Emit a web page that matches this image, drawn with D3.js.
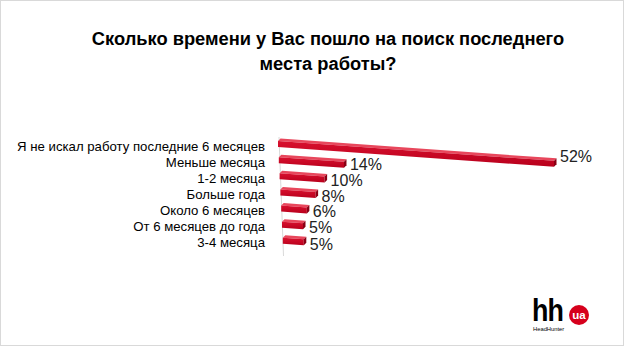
<!DOCTYPE html>
<html>
<head>
<meta charset="utf-8">
<script src="https://cdn.jsdelivr.net/npm/d3@7"></script>
<style>
  html, body { margin: 0; padding: 0; background: #fff; }
  svg { display: block; }
</style>
</head>
<body>
<svg id="chart" width="624" height="346"></svg>
<script>
// Survey answers and shares (%)
const categories = [
  "Я не искал работу последние 6 месяцев",
  "Меньше месяца",
  "1-2 месяца",
  "Больше года",
  "Около 6 месяцев",
  "От 6 месяцев до года",
  "3-4 месяца"
];
const values = [52, 14, 10, 8, 6, 5, 5];
const valueLabels = ["52%", "14%", "10%", "8%", "6%", "5%", "5%"];
const titleLines = ["Сколько времени у Вас пошло на поиск последнего", "места работы?"];

const W = 624, H = 346;
const svg = d3.select("#chart");

// Frame
svg.append("rect")
  .attr("x", 0.5).attr("y", 0.5)
  .attr("width", W - 1).attr("height", H - 1)
  .attr("fill", "#fff").attr("stroke", "#d9d9d9");

// Title
svg.append("text")
  .attr("x", 328).attr("y", 45)
  .attr("text-anchor", "middle")
  .attr("font-family", "Liberation Sans, Arial, sans-serif")
  .attr("font-weight", "bold")
  .attr("font-size", 18.3)
  .attr("fill", "#000")
  .selectAll("tspan").data(titleLines).join("tspan")
  .attr("x", 328)
  .attr("dy", (d, i) => i === 0 ? 0 : 25)
  .text(d => d);

// Scales: rows top to bottom, and a mildly foreshortened value axis (3-D perspective)
const y = d3.scaleBand()
  .domain(categories)
  .range([141, 254])
  .paddingInner(0).paddingOuter(0);
const x = d3.scalePow().exponent(1.1).domain([0, 52]).range([0, 276]);

const slope = 0.072;     // bars recede downward in the perspective view
const barH = 6;          // front face height
const depth = 2.5;       // visible top face depth
const axisLeft = i => 278 + i * 0.8;

// Slanted category axis line
svg.append("line")
  .attr("x1", 279).attr("y1", 137)
  .attr("x2", 283.5).attr("y2", 256)
  .attr("stroke", "#d9d9d9").attr("stroke-width", 1);

const rows = categories.map((c, i) => {
  const x0 = axisLeft(i);
  const L = x(values[i]);
  const yt = y(c);
  const drop = slope * L;
  return { c, i, x0, L, yt, drop, v: values[i], label: valueLabels[i] };
});

const grad = svg.append("defs").append("linearGradient")
  .attr("id", "front").attr("x1", 0).attr("y1", 0).attr("x2", 0).attr("y2", 1);
grad.append("stop").attr("offset", "0%").attr("stop-color", "#d8102e");
grad.append("stop").attr("offset", "100%").attr("stop-color", "#b8001c");

const bars = svg.append("g").selectAll("g").data(rows).join("g");

// top face
bars.append("polygon")
  .attr("fill", "#e8475c")
  .attr("points", d => [
    [d.x0, d.yt],
    [d.x0 + d.L, d.yt + d.drop],
    [d.x0 + d.L + depth, d.yt + d.drop - depth],
    [d.x0 + depth, d.yt - depth]
  ].join(" "));

// front face
bars.append("polygon")
  .attr("fill", "url(#front)")
  .attr("points", d => [
    [d.x0, d.yt],
    [d.x0 + d.L, d.yt + d.drop],
    [d.x0 + d.L, d.yt + d.drop + barH],
    [d.x0, d.yt + barH]
  ].join(" "));

// end cap
bars.append("polygon")
  .attr("fill", "#8a0014")
  .attr("points", d => [
    [d.x0 + d.L, d.yt + d.drop],
    [d.x0 + d.L + depth, d.yt + d.drop - depth],
    [d.x0 + d.L + depth, d.yt + d.drop - depth + barH],
    [d.x0 + d.L, d.yt + d.drop + barH]
  ].join(" "));

// value labels
svg.append("g").selectAll("text").data(rows).join("text")
  .attr("x", d => d.x0 + d.L + 6)
  .attr("y", d => d.yt + d.drop * 0.5 + 11)
  .attr("font-family", "Liberation Sans, Arial, sans-serif")
  .attr("font-size", 16)
  .attr("fill", "#222")
  .text(d => d.label);

// category labels
svg.append("g").selectAll("text").data(rows).join("text")
  .attr("x", 265)
  .attr("y", d => d.yt + 9.5)
  .attr("text-anchor", "end")
  .attr("font-family", "Liberation Sans, Arial, sans-serif")
  .attr("font-size", 13.2)
  .attr("fill", "#000")
  .text(d => d.c);

// HeadHunter logo
const logo = svg.append("g");
logo.append("text")
  .attr("transform", "translate(532,321) scale(0.84,1)")
  .attr("font-family", "Liberation Sans, Arial, sans-serif")
  .attr("font-weight", "bold")
  .attr("font-size", 32)
  .attr("letter-spacing", -1)
  .attr("fill", "#000")
  .text("hh");
logo.append("circle")
  .attr("cx", 579).attr("cy", 315).attr("r", 10)
  .attr("fill", "#d6001c");
logo.append("text")
  .attr("x", 579).attr("y", 319)
  .attr("text-anchor", "middle")
  .attr("font-family", "Liberation Sans, Arial, sans-serif")
  .attr("font-weight", "bold")
  .attr("font-size", 11.5)
  .attr("fill", "#fff")
  .text("ua");
logo.append("text")
  .attr("x", 533).attr("y", 331)
  .attr("font-family", "Liberation Sans, Arial, sans-serif")
  .attr("font-size", 5.8)
  .attr("fill", "#000")
  .text("HeadHunter");
</script>
</body>
</html>
